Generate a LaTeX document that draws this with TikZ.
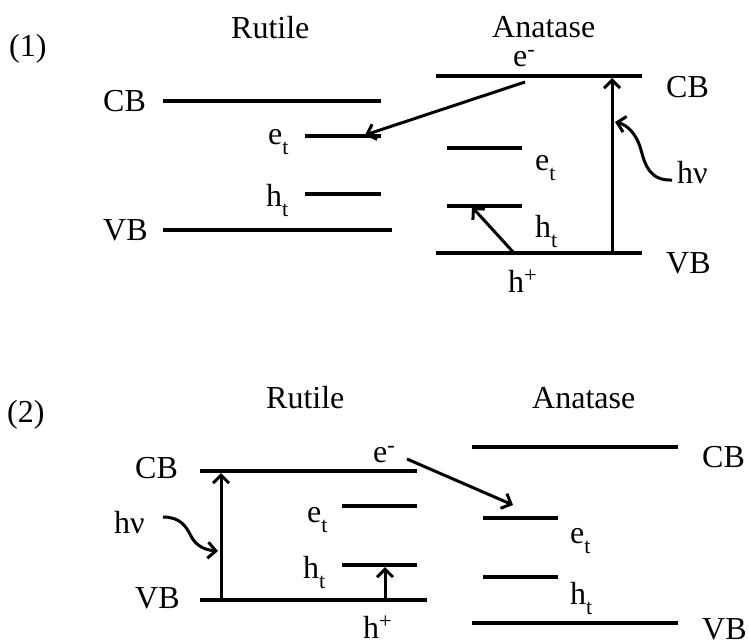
\documentclass[tikz,border=0pt]{standalone}
\usepackage{fontspec}
\setmainfont{Liberation Serif}
\usetikzlibrary{arrows.meta}
% lowered subscript, as used for trap-state labels
\newcommand\trapsub[1]{\raisebox{-0.32em}{\fontsize{22}{22}\selectfont #1}}
\begin{document}
\begin{tikzpicture}[x=1pt,y=-1pt,
  level/.style={line width=3.6pt},
  lbl/.style={anchor=base west,inner sep=0pt,font=\fontsize{32}{36}\selectfont},
  elbl/.style={lbl,text height=17pt},
  jump/.style={line width=3pt,-{Straight Barb[length=8pt,width=16pt]}}]
\useasboundingbox (0,0) rectangle (749,643);

% ---------------- panel (1) ----------------
\node[lbl] (p1)  at (9,56)   {(1)};
\node[lbl] (r1)  at (231,38) {Rutile};
\node[lbl] (a1)  at (492,37) {Anatase};

% rutile levels
\coordinate (rCB1a) at (163,101); \coordinate (rCB1b) at (381,101);
\coordinate (ret1a) at (305,136); \coordinate (ret1b) at (381,136);
\coordinate (rht1a) at (305,194); \coordinate (rht1b) at (381,194);
\coordinate (rVB1a) at (163,230); \coordinate (rVB1b) at (392,230);
\draw[level] (rCB1a) -- (rCB1b);
\draw[level] (ret1a) -- (ret1b);
\draw[level] (rht1a) -- (rht1b);
\draw[level] (rVB1a) -- (rVB1b);
\node[lbl] (rCB1l) at (103,111) {CB};
\node[lbl] (rVB1l) at (103,240) {VB};
\node[lbl] (ret1l) at (268,144) {e\trapsub{t}};
\node[lbl] (rht1l) at (266,206) {h\trapsub{t}};

% anatase levels
\coordinate (aCB1a) at (436,76);  \coordinate (aCB1b) at (642,76);
\coordinate (aet1a) at (447,148); \coordinate (aet1b) at (522,148);
\coordinate (aht1a) at (447,206); \coordinate (aht1b) at (522,206);
\coordinate (aVB1a) at (436,253); \coordinate (aVB1b) at (642,253);
\draw[level] (aCB1a) -- (aCB1b);
\draw[level] (aet1a) -- (aet1b);
\draw[level] (aht1a) -- (aht1b);
\draw[level] (aVB1a) -- (aVB1b);
\node[lbl] (aCB1l) at (666,97)  {CB};
\node[lbl] (aVB1l) at (666,273) {VB};
\node[lbl] (aet1l) at (535,170) {e\trapsub{t}};
\node[lbl] (aht1l) at (535,237) {h\trapsub{t}};
\node[lbl] (h1l)   at (508,292) {h\textsuperscript{+}};
\node[elbl] (e1l)  at (513,66)  {e\textsuperscript{-}};
\node[lbl] (hv1l)  at (677,183) {hν};

% transitions
\coordinate (ex1s) at (612,253); \coordinate (ex1e) at (612,78);
\coordinate (el1s) at (525,82);  \coordinate (el1e) at (365,135);
\coordinate (ho1s) at (514,253); \coordinate (ho1e) at (472,207);
\coordinate (ph1s) at (672,180); \coordinate (ph1e) at (615,122);
\draw[jump] (ex1s) -- (ex1e);
\draw[jump] (el1s) -- (el1e);
\draw[jump] (ho1s) -- (ho1e);
\draw[jump] (ph1s) .. controls (650,181) and (645,165) .. (641,150)
                   .. controls (637,135) and (628,125) .. (ph1e);

% ---------------- panel (2) ----------------
\node[lbl] (p2)  at (7,422)   {(2)};
\node[lbl] (r2)  at (266,408) {Rutile};
\node[lbl] (a2)  at (532,408) {Anatase};

% rutile levels
\coordinate (rCB2a) at (200,471); \coordinate (rCB2b) at (417,471);
\coordinate (ret2a) at (342,506); \coordinate (ret2b) at (417,506);
\coordinate (rht2a) at (342,565); \coordinate (rht2b) at (417,565);
\coordinate (rVB2a) at (200,600); \coordinate (rVB2b) at (427,600);
\draw[level] (rCB2a) -- (rCB2b);
\draw[level] (ret2a) -- (ret2b);
\draw[level] (rht2a) -- (rht2b);
\draw[level] (rVB2a) -- (rVB2b);
\node[lbl] (rCB2l) at (135,478) {CB};
\node[lbl] (rVB2l) at (135,608) {VB};
\node[lbl] (hv2l)  at (114,533) {hν};
\node[lbl] (ret2l) at (307,522) {e\trapsub{t}};
\node[lbl] (rht2l) at (303,578) {h\trapsub{t}};
\node[lbl] (h2l)   at (363,638) {h\textsuperscript{+}};
\node[elbl] (e2l)  at (373,462) {e\textsuperscript{-}};

% anatase levels
\coordinate (aCB2a) at (472,447); \coordinate (aCB2b) at (678,447);
\coordinate (aet2a) at (483,518); \coordinate (aet2b) at (558,518);
\coordinate (aht2a) at (483,577); \coordinate (aht2b) at (558,577);
\coordinate (aVB2a) at (472,623); \coordinate (aVB2b) at (678,623);
\draw[level] (aCB2a) -- (aCB2b);
\draw[level] (aet2a) -- (aet2b);
\draw[level] (aht2a) -- (aht2b);
\draw[level] (aVB2a) -- (aVB2b);
\node[lbl] (aCB2l) at (702,467) {CB};
\node[lbl] (aVB2l) at (702,639) {VB};
\node[lbl] (aet2l) at (570,543) {e\trapsub{t}};
\node[lbl] (aht2l) at (570,604) {h\trapsub{t}};

% transitions
\coordinate (ex2s) at (221,600); \coordinate (ex2e) at (221,473);
\coordinate (ho2s) at (385,600); \coordinate (ho2e) at (385,567);
\coordinate (el2s) at (407,459); \coordinate (el2e) at (513,505);
\coordinate (ph2s) at (163,517); \coordinate (ph2e) at (218,551);
\draw[jump] (ex2s) -- (ex2e);
\draw[jump] (ho2s) -- (ho2e);
\draw[jump] (el2s) -- (el2e);
\draw[jump] (ph2s) .. controls (180,517) and (186,526) .. (191,536)
                   .. controls (196,546) and (205,550) .. (ph2e);
\end{tikzpicture}
\end{document}
